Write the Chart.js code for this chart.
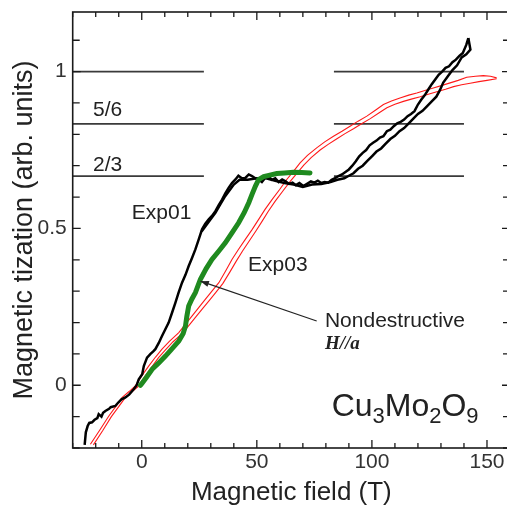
<!DOCTYPE html>
<html><head><meta charset="utf-8">
<script src="https://cdn.jsdelivr.net/npm/chart.js@4/dist/chart.umd.min.js"></script>
<style>html,body{margin:0;padding:0;background:#fff;overflow:hidden;width:507px;height:508px}canvas{display:block}</style>
</head><body><canvas id="c" width="510" height="508"></canvas>
<script>
// ---- tick values ----
const xTickValues = [0, 50, 100, 150];
const yTickValues = [0, 0.5, 1];
const xMinorTickValues = [-30,-20,-10,0,10,20,30,40,50,60,70,80,90,100,110,120,130,140,150,160];
const yMinorTickValues = [-0.2,-0.1,0,0.1,0.2,0.3,0.4,0.5,0.6,0.7,0.8,0.9,1,1.1];

// ---- plateau reference lines ----
const plateauLevels = [1, 0.8333, 0.6667];
const leftSegmentX = [-30, 27];
const rightSegmentX = [83.5, 140];

// ---- Exp01 (black), up sweep ----
const exp01UpX = [-24.8,-24.3,-23.5,-22.8,-21.6,-20.5,-19.3,-18.7,-17.5,-16.8,-15.8,-14.2,-13.5,-11.5,-10.2,-8.8,-7.1,-5.5,-3.5,-2.2,-1.3,0.2,0.9,2.3,3.8,5.0,5.9,7.4,8.8,10.2,11.7,13.2,14.6,16.0,17.5,19.0,20.4,21.8,23.3,24.8,26.2,27.6,29.1,30.5,32.0,33.5,34.9,36.3,37.8,39.2,40.7,42.0,43.5,45.0,46.5,47.9,49.3,50.8,52.2,53.5,55.0,56.5,58.0,59.5,61.0,62.5,64.0,65.5,67.0,68.5,70.2,72.0,73.5,75.0,76.5,78.0,79.5,81.0,82.5,84.0,85.5,87.0,88.5,90.0,91.5,93.0,94.5,96.0,97.5,99.0,100.5,102.0,103.5,105.0,106.5,108.0,109.5,111.0,112.5,114.0,115.5,117.0,118.5,120.0,121.5,123.0,124.5,126.0,127.5,129.0,130.5,132.0,133.5,135.0,136.5,138.0,139.5,141.0,141.9];
const exp01UpY = [-0.19,-0.15,-0.13,-0.12,-0.118,-0.11,-0.105,-0.092,-0.1,-0.088,-0.082,-0.075,-0.07,-0.066,-0.055,-0.045,-0.039,-0.03,-0.013,0.0,0.019,0.035,0.061,0.088,0.1,0.108,0.115,0.135,0.157,0.178,0.2,0.232,0.263,0.295,0.327,0.352,0.38,0.405,0.433,0.466,0.497,0.515,0.529,0.54,0.555,0.575,0.592,0.612,0.63,0.645,0.656,0.668,0.66,0.661,0.672,0.667,0.66,0.656,0.648,0.66,0.667,0.655,0.66,0.648,0.656,0.65,0.642,0.646,0.638,0.645,0.635,0.643,0.65,0.646,0.652,0.645,0.648,0.646,0.655,0.66,0.667,0.672,0.68,0.688,0.70,0.714,0.73,0.741,0.75,0.765,0.773,0.78,0.79,0.794,0.81,0.815,0.826,0.835,0.84,0.847,0.858,0.865,0.874,0.895,0.911,0.925,0.943,0.96,0.975,0.99,1.0,1.012,1.017,1.03,1.038,1.05,1.059,1.085,1.107];

// ---- Exp01 (black), down sweep ----
const exp01DownX = [141.9,142.8,141.0,139.0,137.0,135.0,133.0,131.0,129.5,128.0,126.0,124.0,122.0,120.0,118.0,116.0,114.0,112.0,110.0,108.0,106.0,104.0,102.0,100.0,98.0,96.0,94.0,92.0,90.0,88.0,85.0,82.0,78.0,74.0,70.0,66.0,62.0,58.0,54.0,50.0,46.0,42.5,40.0,38.0,36.0,34.0,32.0,30.0,28.0,26.0];
const exp01DownY = [1.107,1.07,1.055,1.045,1.02,1.005,0.985,0.965,0.94,0.92,0.905,0.89,0.875,0.865,0.85,0.835,0.82,0.81,0.795,0.785,0.77,0.755,0.745,0.73,0.715,0.70,0.69,0.676,0.668,0.66,0.655,0.648,0.642,0.64,0.632,0.64,0.645,0.652,0.66,0.66,0.655,0.655,0.64,0.62,0.60,0.575,0.55,0.53,0.51,0.49];

// ---- Exp03 (red), two sweeps ----
const exp03AX = [-22.3,-18,-14.3,-11,-8.6,-5.5,-2.8,0,3.0,6,8.8,12,16.1,19,21.9,25,27.6,30.5,33.5,36.5,39.2,42,45.0,48,50.8,53.5,56.6,60,63.0,66,68.8,72,76.0,79.5,83.3,87,90.5,94,97.8,101.5,105.0,108.5,112.2,116,119.5,123,126.7,130.5,134.0,137.5,141.2,145,148.4,151.5,154.2];
const exp03AY = [-0.188,-0.14,-0.098,-0.065,-0.039,-0.02,-0.002,0.03,0.061,0.09,0.115,0.14,0.168,0.195,0.221,0.25,0.274,0.30,0.327,0.365,0.401,0.433,0.465,0.497,0.529,0.56,0.592,0.625,0.656,0.683,0.709,0.733,0.757,0.776,0.794,0.81,0.826,0.842,0.858,0.877,0.895,0.906,0.916,0.925,0.932,0.94,0.948,0.956,0.964,0.972,0.982,0.985,0.987,0.985,0.98];
const exp03BX = [-21.0,-17,-13.2,-10,-7.4,-4.4,-1.6,1.3,4.3,7.3,10.2,13.5,17.6,20.6,23.5,26.6,29.3,32.2,35.2,38.2,41,43.8,46.7,49.6,52.4,55,58,61.4,64.5,67.5,70.4,73.6,77.5,81,84.8,88.5,92,95.5,99.3,103,106.5,110,113.7,117.5,121,124.5,128.2,132,135.5,139,142.7,146.5,150,154.2];
const exp03BY = [-0.19,-0.145,-0.10,-0.068,-0.042,-0.022,-0.004,0.028,0.058,0.088,0.112,0.138,0.165,0.192,0.218,0.246,0.27,0.296,0.324,0.36,0.395,0.428,0.46,0.492,0.524,0.555,0.587,0.62,0.65,0.676,0.702,0.726,0.75,0.768,0.786,0.803,0.818,0.834,0.85,0.868,0.885,0.896,0.905,0.913,0.92,0.928,0.936,0.944,0.952,0.958,0.963,0.968,0.972,0.977];

// ---- Nondestructive (green) ----
const ndX = [-0.6,0,2,4.5,7.5,10.3,13,16.1,18,19.0,19.6,20.4,21.8,23.3,25.5,28,30.5,33.5,36.3,39.2,42.1,44.5,46.5,48,49.4,50.8,53,55.2,58.7,62,65.9,69.5,73.1];
const ndY = [0.0,0.005,0.025,0.051,0.072,0.093,0.115,0.141,0.165,0.189,0.22,0.253,0.275,0.295,0.338,0.372,0.401,0.428,0.454,0.486,0.518,0.55,0.582,0.61,0.635,0.656,0.665,0.669,0.675,0.677,0.679,0.678,0.677];

const pts = (xs, ys) => xs.map((v, i) => ({x: v, y: ys[i]}));

const datasets = [];
plateauLevels.forEach(lv => {
  [leftSegmentX, rightSegmentX].forEach(seg => {
    datasets.push({data: seg.map(v => ({x: v, y: lv})), borderColor: '#3a3a3a', borderWidth: 1.6, order: 4});
  });
});
datasets.push({data: pts(exp03AX, exp03AY), borderColor: '#ff1a1a', borderWidth: 1.1, order: 3});
datasets.push({data: pts(exp03BX, exp03BY), borderColor: '#ff1a1a', borderWidth: 1.1, order: 3});
datasets.push({data: pts(exp01DownX, exp01DownY), borderColor: '#000', borderWidth: 2.5, order: 2});
datasets.push({data: pts(exp01UpX, exp01UpY), borderColor: '#000', borderWidth: 2.5, order: 2});
datasets.push({data: pts(ndX, ndY), borderColor: '#1f8a1f', borderWidth: 5, order: 1, borderCapStyle: 'round'});

const textItems = [
  {text: '5/6', x: -21.2, y: 0.876},
  {text: '2/3', x: -21.2, y: 0.70},
  {text: 'Exp01', x: -4.3, y: 0.548},
  {text: 'Exp03', x: 46.2, y: 0.382},
  {text: 'Nondestructive', x: 79.6, y: 0.204}
];
const arrowFrom = {x: 76.0, y: 0.205};
const arrowTo = {x: 25.5, y: 0.332};

const decor = {
  id: 'decor',
  afterDatasetsDraw(chart) {
    const {ctx, chartArea: a, scales: {x, y}} = chart;
    ctx.save();
    ctx.strokeStyle = '#1a1a1a';
    ctx.lineWidth = 1.6;
    ctx.strokeRect(a.left, a.top, a.right - a.left, a.bottom - a.top);
    ctx.lineWidth = 1.3;
    ctx.beginPath();
    xMinorTickValues.forEach(v => {
      const p = x.getPixelForValue(v);
      const L = xTickValues.includes(v) ? 8 : 5;
      ctx.moveTo(p, a.bottom); ctx.lineTo(p, a.bottom - L);
      ctx.moveTo(p, a.top); ctx.lineTo(p, a.top + L);
    });
    yMinorTickValues.forEach(v => {
      const p = y.getPixelForValue(v);
      const L = yTickValues.some(t => Math.abs(t - v) < 1e-6) ? 8 : 7;
      ctx.moveTo(a.left, p); ctx.lineTo(a.left + L, p);
      ctx.moveTo(a.right, p); ctx.lineTo(a.right - L, p);
    });
    ctx.stroke();

    // text labels
    ctx.fillStyle = '#222';
    ctx.font = '21px "Liberation Sans", Arial, sans-serif';
    ctx.textBaseline = 'middle';
    ctx.textAlign = 'left';
    textItems.forEach(t => ctx.fillText(t.text, x.getPixelForValue(t.x), y.getPixelForValue(t.y)));
    ctx.font = 'italic bold 19px "Liberation Serif", "DejaVu Serif", serif';
    ctx.fillText('H//a', x.getPixelForValue(79.6), y.getPixelForValue(0.131));

    // compound formula
    let cx = x.getPixelForValue(82.5);
    const by = y.getPixelForValue(-0.098);
    ctx.textBaseline = 'alphabetic';
    const parts = [['Cu', false], ['3', true], ['Mo', false], ['2', true], ['O', false], ['9', true]];
    parts.forEach(([s, sub]) => {
      ctx.font = (sub ? '22px' : '32px') + ' "Liberation Sans", Arial, sans-serif';
      ctx.fillText(s, cx, sub ? by + 7 : by);
      cx += ctx.measureText(s).width;
    });

    // arrow
    const x0 = x.getPixelForValue(arrowFrom.x), y0 = y.getPixelForValue(arrowFrom.y);
    const x1 = x.getPixelForValue(arrowTo.x), y1 = y.getPixelForValue(arrowTo.y);
    ctx.strokeStyle = '#222'; ctx.lineWidth = 1.1;
    ctx.beginPath(); ctx.moveTo(x0, y0); ctx.lineTo(x1, y1); ctx.stroke();
    const ang = Math.atan2(y1 - y0, x1 - x0);
    ctx.beginPath();
    ctx.moveTo(x1, y1);
    ctx.lineTo(x1 - 9 * Math.cos(ang - 0.35), y1 - 9 * Math.sin(ang - 0.35));
    ctx.lineTo(x1 - 9 * Math.cos(ang + 0.35), y1 - 9 * Math.sin(ang + 0.35));
    ctx.closePath(); ctx.fillStyle = '#222'; ctx.fill();
    ctx.restore();
  }
};

new Chart(document.getElementById('c'), {
  type: 'scatter',
  data: {datasets},
  options: {
    responsive: false,
    animation: false,
    showLine: true,
    layout: {padding: {top: 12, right: 0, left: 0, bottom: 0}},
    elements: {point: {radius: 0}, line: {tension: 0, fill: false}},
    plugins: {legend: {display: false}, tooltip: {enabled: false}},
    scales: {
      x: {
        type: 'linear', min: -30, max: 160,
        grid: {display: false, drawTicks: false},
        border: {display: false},
        afterBuildTicks: s => { s.ticks = xTickValues.map(v => ({value: v})); },
        afterFit: s => { s.height = 60; s.paddingLeft = 0; s.paddingRight = 0; },
        ticks: {padding: 2, color: '#333', font: {family: '"Liberation Sans", Arial, sans-serif', size: 21}, callback: v => String(v), maxRotation: 0},
        title: {display: true, text: 'Magnetic field (T)', color: '#222', padding: {top: 0, bottom: 0}, font: {family: '"Liberation Sans", Arial, sans-serif', size: 26}}
      },
      y: {
        type: 'linear', min: -0.2, max: 1.19,
        grid: {display: false, drawTicks: false},
        border: {display: false},
        afterBuildTicks: s => { s.ticks = yTickValues.map(v => ({value: v})); },
        afterFit: s => { s.width = 72.7; s.paddingTop = 0; s.paddingBottom = 0; },
        ticks: {padding: 6, color: '#333', font: {family: '"Liberation Sans", Arial, sans-serif', size: 21}, callback: v => String(v)},
        title: {display: true, text: 'Magnetic tization (arb. units)', color: '#222', padding: {top: 8, bottom: 0}, font: {family: '"Liberation Sans", Arial, sans-serif', size: 27}}
      }
    }
  },
  plugins: [decor]
});
</script>
</body></html>
